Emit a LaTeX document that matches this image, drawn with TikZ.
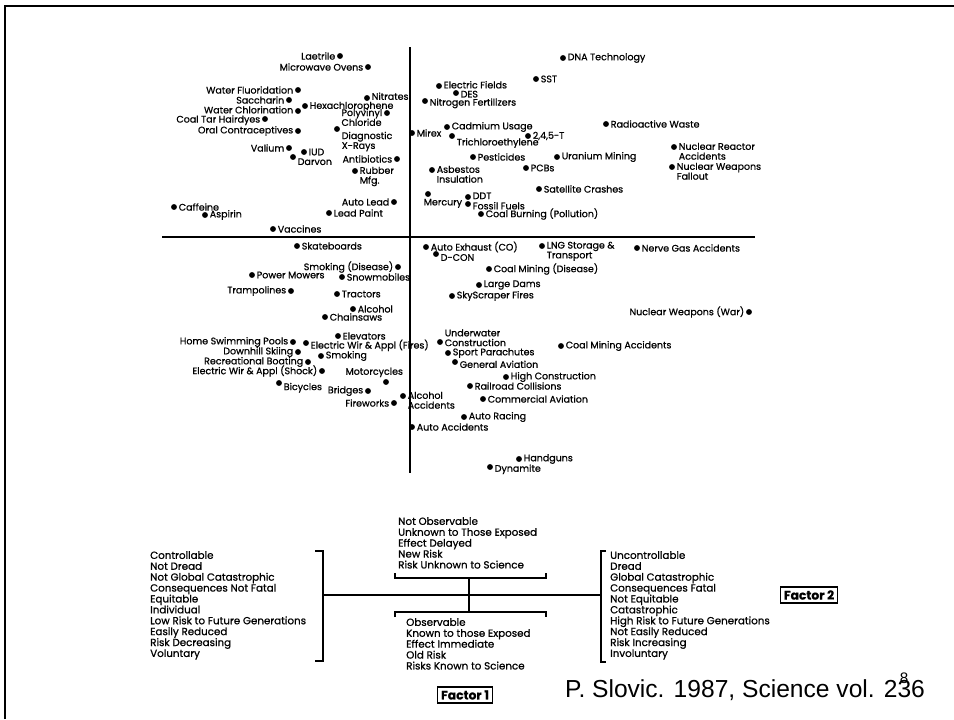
\documentclass[tikz,border=0pt]{standalone}
\usepackage{fontspec}
\setmainfont{Poppins}[RawFeature={embolden=0.8}]
\newfontfamily\arialfont{Liberation Sans}
\usetikzlibrary{positioning}
\newcommand{\labfont}{\fontsize{8.1}{8.4}\selectfont}
\newcommand{\listfont}{\fontsize{8.8}{9.3}\selectfont}
\tikzset{
  dot/.style={
    circle,
    fill=black,
    inner sep=0pt,
    minimum size=5pt
  },
  every label/.style={
    font=\labfont,
    inner sep=1.2pt,
    align=left
  },
  factorbox/.style={
    draw,
    line width=1.2pt,
    inner sep=3pt,
    font=\fontsize{10.5}{11}\selectfont\bfseries
  },
  factorlist/.style={
    anchor=north west,
    inner sep=0pt,
    align=left,
    font=\listfont
  },
  axis/.style={line width=1.5pt},
  bracket/.style={line width=0.9pt}
}

\begin{document}
\begin{tikzpicture}[x=0.03cm, y=-0.03cm]
\useasboundingbox (0,0) rectangle (954,719);

% --- frame ---
\draw[line width=2.5pt] (5,719) -- (5,6) -- (954,6);

% --- axes ---
\coordinate (ytop) at (410,47);
\coordinate (ybot) at (410,473);
\coordinate (xleft) at (162,237);
\coordinate (xright) at (755,237);
\draw[axis] (ytop) -- (ybot);
\draw[axis] (xleft) -- (xright);

% --- upper left quadrant ---
\node[dot, label=left:Laetrile] (laetrile) at (340,56) {};
\node[dot, label=left:Microwave Ovens] (microwave) at (368,67) {};
\node[dot, label=left:Water Fluoridation] (fluoridation) at (298,90) {};
\node[dot, label=left:Saccharin] (saccharin) at (289,100) {};
\node[dot, label={[yshift=1.5pt]right:Nitrates}] (nitrates) at (367,98) {};
\node[dot, label={[yshift=-0.5pt]right:Hexachlorophene}] (hexachloro) at (305,106) {};
\node[dot, label={[yshift=1pt]left:Water Chlorination}] (chlorination) at (298,111) {};
\node[dot, label={[anchor=north east, yshift=5pt]west:Polyvinyl\\Chloride}] (polyvinyl) at (387,113) {};
\node[dot, label={[yshift=-1pt]left:Coal Tar Hairdyes}] (hairdyes) at (265,119) {};
\node[dot, label={[anchor=north west, yshift=-1pt]east:Diagnostic\\X-Rays}] (xrays) at (337,129) {};
\node[dot, label=left:Oral Contraceptives] (contraceptives) at (298,131) {};
\node[dot, label=right:Mirex] (mirex) at (412,133) {};
\node[dot, label=left:Valium] (valium) at (289,148) {};
\node[dot, label=right:IUD] (iud) at (304,152) {};
\node[dot, label={[anchor=west, yshift=-4pt]east:Darvon}] (darvon) at (293,157) {};
\node[dot, label=left:Antibiotics] (antibiotics) at (397,159) {};
\node[dot, label={[anchor=north west, yshift=5pt]east:Rubber\\Mfg.}] (rubber) at (355,171) {};
\node[dot, label=left:Auto Lead] (autolead) at (394,202) {};
\node[dot, label=right:Lead Paint] (leadpaint) at (329,213) {};
\node[dot, label=right:Caffeine] (caffeine) at (174,207) {};
\node[dot, label=right:Aspirin] (aspirin) at (205,215) {};
\node[dot, label=right:Vaccines] (vaccines) at (273,229) {};

% --- upper right quadrant ---
\node[dot, label=right:DNA Technology] (dna) at (563,58) {};
\node[dot, label=right:SST] (sst) at (536,79) {};
\node[dot, label={[yshift=1pt]right:Electric Fields}] (efields) at (439,86) {};
\node[dot, label={[yshift=-1pt]right:DES}] (des) at (456,93) {};
\node[dot, label={[yshift=-2pt]right:Nitrogen Fertilizers}] (nitrogen) at (425,101) {};
\node[dot, label=right:Radioactive Waste] (radioactive) at (606,124) {};
\node[dot, label=right:Cadmium Usage] (cadmium) at (447,127) {};
\node[dot, label={[anchor=west, yshift=-6pt]east:Trichloroethylene}] (tce) at (452,136) {};
\node[dot, label=right:{2,4,5-T}] (t245) at (528,136) {};
\node[dot, label={[anchor=north west, yshift=5pt]east:Nuclear Reactor\\Accidents}] (reactor) at (674,147) {};
\node[dot, label=right:Pesticides] (pesticides) at (473,157) {};
\node[dot, label=right:Uranium Mining] (uranium) at (557,157) {};
\node[dot, label={[anchor=north west, yshift=5pt]east:Asbestos\\Insulation}] (asbestos) at (432,170) {};
\node[dot, label=right:PCBs] (pcbs) at (526,168) {};
\node[dot, label={[anchor=north west, yshift=5pt]east:Nuclear Weapons\\Fallout}] (fallout) at (672,167) {};
\node[dot, label=right:Satellite Crashes] (satellite) at (539,189) {};
\node[dot, label={[anchor=north west, xshift=-5pt]south:Mercury}] (mercury) at (428,194) {};
\node[dot, label={[yshift=1pt]right:DDT}] (ddt) at (468,197) {};
\node[dot, label={[yshift=-1.5pt]right:Fossil Fuels}] (fossil) at (468,204) {};
\node[dot, label=right:Coal Burning (Pollution)] (coalburn) at (481,214) {};

% --- lower left quadrant ---
\node[dot, label=right:Skateboards] (skateboards) at (297,246) {};
\node[dot, label=left:Smoking (Disease)] (smokedis) at (398,267) {};
\node[dot, label=right:Power Mowers] (mowers) at (252,275) {};
\node[dot, label=right:Snowmobiles] (snowmobiles) at (342,277) {};
\node[dot, label=left:Trampolines] (trampolines) at (291,291) {};
\node[dot, label=right:Tractors] (tractors) at (337,294) {};
\node[dot, label=right:Alcohol] (alcohol) at (353,309) {};
\node[dot, label=right:Chainsaws] (chainsaws) at (325,317) {};
\node[dot, label=right:Elevators] (elevators) at (338,336) {};
\node[dot, label=left:Home Swimming Pools] (pools) at (293,342) {};
\node[dot, label={[yshift=-2pt]right:Electric Wir \& Appl (Fires)}] (wirfires) at (306,343) {};
\node[dot, label=left:Downhill Skiing] (skiing) at (298,352) {};
\node[dot, label=right:Smoking] (smoking) at (321,356) {};
\node[dot, label=left:Recreational Boating] (boating) at (308,362) {};
\node[dot, label=left:Electric Wir \& Appl (Shock)] (shock) at (322,371) {};
\node[dot, label={[xshift=-10pt]above:Motorcycles}] (motorcycles) at (386,382) {};
\node[dot, label={[anchor=west, yshift=-4pt]east:Bicycles}] (bicycles) at (279,383) {};
\node[dot, label=left:Bridges] (bridges) at (368,391) {};
\node[dot, label=left:Fireworks] (fireworks) at (394,403) {};
\node[dot, label={[anchor=north west, yshift=5pt]east:Alcohol\\Accidents}] (alcacc) at (403,396) {};
\node[dot, label=right:Auto Accidents] (autoacc) at (412,427) {};

% --- lower right quadrant ---
\node[dot, label=right:Auto Exhaust (CO)] (exhaust) at (426,247) {};
\node[dot, label={[yshift=-3pt]right:D-CON}] (dcon) at (436,254) {};
\node[dot, label={[anchor=north west, yshift=5pt]east:LNG Storage \&\\Transport}] (lng) at (542,246) {};
\node[dot, label=right:Nerve Gas Accidents] (nerve) at (637,248) {};
\node[dot, label=right:Coal Mining (Disease)] (coalmindis) at (489,269) {};
\node[dot, label=right:Large Dams] (dams) at (479,285) {};
\node[dot, label=right:SkyScraper Fires] (skyscraper) at (452,296) {};
\node[dot, label=left:Nuclear Weapons (War)] (nukewar) at (749,312) {};
\node[dot, label={[anchor=south west, yshift=-5pt]east:Underwater\\Construction}] (underwater) at (440,342) {};
\node[dot, label=right:Coal Mining Accidents] (coalminacc) at (561,346) {};
\node[dot, label=right:Sport Parachutes] (parachutes) at (448,353) {};
\node[dot, label={[yshift=-2pt]right:General Aviation}] (genaviation) at (455,362) {};
\node[dot, label=right:High Construction] (highconst) at (506,377) {};
\node[dot, label=right:Railroad Collisions] (railroad) at (470,386) {};
\node[dot, label=right:Commercial Aviation] (commaviation) at (483,399) {};
\node[dot, label=right:Auto Racing] (racing) at (464,417) {};
\node[dot, label=right:Handguns] (handguns) at (519,459) {};
\node[dot, label={[yshift=-2pt]right:Dynamite}] (dynamite) at (490,467) {};

% --- factor key ---
\node[factorlist] (lowdread) at (150,551) {Controllable\\Not Dread\\Not Global Catastrophic\\Consequences Not Fatal\\Equitable\\Individual\\Low Risk to Future Generations\\Easily Reduced\\Risk Decreasing\\Voluntary};
\node[factorlist] (unknown) at (398,517) {Not Observable\\Unknown to Those Exposed\\Effect Delayed\\New Risk\\Risk Unknown to Science};
\node[factorlist] (known) at (406,618) {Observable\\Known to those Exposed\\Effect Immediate\\Old Risk\\Risks Known to Science};
\node[factorlist] (highdread) at (610,551) {Uncontrollable\\Dread\\Global Catastrophic\\Consequences Fatal\\Not Equitable\\Catastrophic\\High Risk to Future Generations\\Not Easily Reduced\\Risk Increasing\\Involuntary};

\coordinate (lbr) at (323,595);
\coordinate (rbr) at (601,595);
\coordinate (tbr) at (469,578);
\coordinate (bbr) at (469,612);
\draw[bracket] (315,551) -- (323,551) -- (323,661) -- (315,661);
\draw[bracket] (606,551) -- (601,551) -- (601,662) -- (606,662);
\draw[bracket] (395,573) -- (395,578) -- (546,578) -- (546,573);
\draw[bracket] (395,617) -- (395,612) -- (546,612) -- (546,617);
\draw[bracket] (lbr) -- (rbr);
\draw[bracket] (tbr) -- (bbr);

\node[factorbox] (factor1) at (465,695) {Factor 1};
\node[factorbox] (factor2) at (809,595) {Factor 2};

% --- source ---
\node[anchor=west, inner sep=0pt, font=\arialfont\fontsize{21}{23}\selectfont] (source) at (565,690) {P. Slovic. 1987, Science vol. 236};
\node[inner sep=0pt, font=\arialfont\fontsize{13}{15}\selectfont] (pagenum) at (904,678) {8};

\end{tikzpicture}
\end{document}
